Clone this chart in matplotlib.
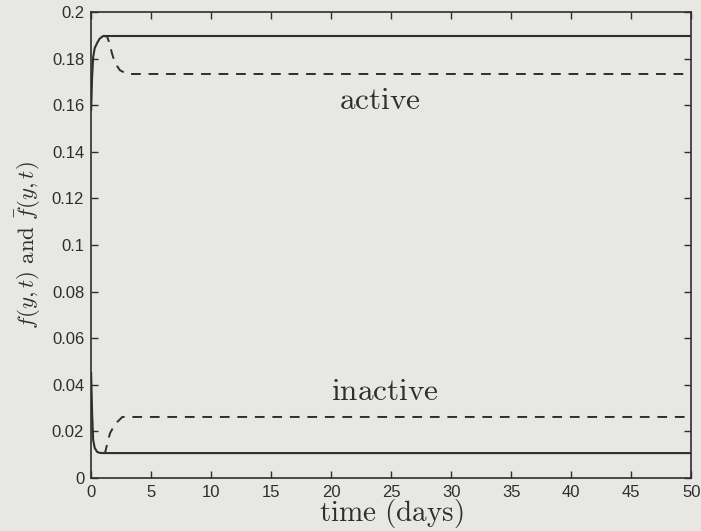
import numpy as np
import matplotlib.pyplot as plt

plt.rcParams['mathtext.fontset'] = 'cm'
plt.rcParams['font.family'] = ['Liberation Sans', 'DejaVu Sans']

# solid curves f(y,t)
t_solid = [0.0, 0.08, 0.17, 0.3, 0.5, 0.7, 1.0, 50.0]
active_solid = [0.158, 0.172, 0.1807, 0.1845, 0.1867, 0.1885, 0.1897, 0.1897]
inactive_solid = [0.045, 0.028, 0.0163, 0.0129, 0.0112, 0.0108, 0.0107, 0.0107]

# dashed curves fbar(y,t)
t_dash_act = [1.0, 1.33, 1.5, 1.75, 2.0, 2.4, 3.0, 50.0]
active_dash = [0.1897, 0.1895, 0.187, 0.182, 0.178, 0.175, 0.1734, 0.1734]
t_dash_inact = [1.0, 1.17, 1.4, 1.58, 1.9, 2.17, 2.6, 50.0]
inactive_dash = [0.0107, 0.011, 0.016, 0.0193, 0.0222, 0.024, 0.0262, 0.0262]

xticks = list(range(0, 51, 5))
yticks = [0, 0.02, 0.04, 0.06, 0.08, 0.1, 0.12, 0.14, 0.16, 0.18, 0.2]
ytick_labels = ['0', '0.02', '0.04', '0.06', '0.08', '0.1', '0.12', '0.14',
                '0.16', '0.18', '0.2']

bg = '#e7e7e4'
ink = '#2e2e2e'

fig = plt.figure(figsize=(7.01, 5.31), dpi=100, facecolor=bg)
ax = fig.add_axes([0.13, 0.0998, 0.856, 0.8776], facecolor=bg)

ax.plot(t_solid, active_solid, '-', color=ink, lw=1.5)
ax.plot(t_solid, inactive_solid, '-', color=ink, lw=1.5)
ax.plot(t_dash_act, active_dash, '--', color=ink, lw=1.4, dashes=(5, 4))
ax.plot(t_dash_inact, inactive_dash, '--', color=ink, lw=1.4, dashes=(5, 4))

ax.text(24.1, 0.1618, r'$\mathrm{active}$', fontsize=22.5, color=ink,
        ha='center', va='center')
ax.text(24.45, 0.037, r'$\mathrm{inactive}$', fontsize=22.5, color=ink,
        ha='center', va='center')

ax.set_xlim(0, 50)
ax.set_ylim(0, 0.2)
ax.set_xticks(xticks)
ax.set_yticks(yticks)
ax.set_yticklabels(ytick_labels)
ax.tick_params(direction='in', top=True, right=True, length=5, width=1,
               colors=ink, labelsize=12, pad=5)
for s in ax.spines.values():
    s.set_color(ink)
    s.set_linewidth(1.2)

ax.set_xlabel(r'$\mathrm{time\ (days)}$', fontsize=21, color=ink, labelpad=-2)
ax.set_ylabel(r'$f(y,t)\ \mathrm{and}\ \bar{f}(y,t)$', fontsize=16.5,
              color=ink, labelpad=6)

fig.savefig('out.png', dpi=100, facecolor=bg)
